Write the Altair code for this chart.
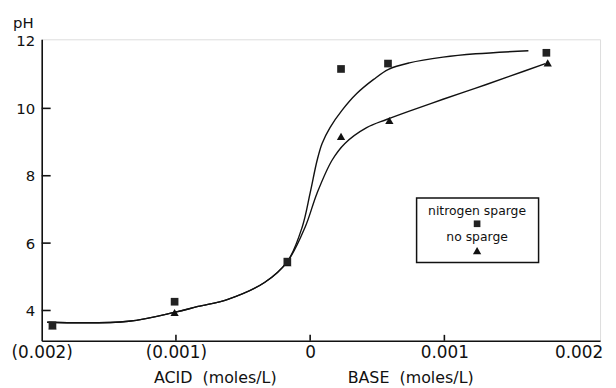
import altair as alt
import pandas as pd

# ---- data ----
# measured points
sq_x = [-0.00192, -0.00101, -0.00017, 0.00023, 0.00058, 0.00176]
sq_y = [3.56, 4.26, 5.45, 11.17, 11.33, 11.65]
tri_x = [-0.00192, -0.00101, -0.00017, 0.00023, 0.00059, 0.00177]
tri_y = [3.54, 3.94, 5.42, 9.17, 9.64, 11.35]

# fitted curves (traced)
n2_x = [-0.001959, -0.001353, -0.001005, -0.000835, -0.000613, -0.000340, -0.000170,
        -0.000059, 0.000000, 0.000052, 0.000089, 0.000148, 0.000237, 0.000347,
        0.000473, 0.000584, 0.000739, 0.000990, 0.001234, 0.001626]
n2_y = [3.65, 3.68, 3.95, 4.12, 4.33, 4.83, 5.45,
        6.48, 7.49, 8.46, 8.96, 9.43, 9.94, 10.44,
        10.86, 11.16, 11.35, 11.52, 11.62, 11.71]
ns_x = [-0.001959, -0.001353, -0.001005, -0.000835, -0.000613, -0.000340, -0.000170,
        -0.000037, 0.000052, 0.000163, 0.000259, 0.000421, 0.000569, 0.000739,
        0.000990, 0.001234, 0.001478, 0.001752]
ns_y = [3.65, 3.68, 3.95, 4.12, 4.33, 4.83, 5.45,
        6.48, 7.49, 8.46, 8.96, 9.43, 9.67, 9.92,
        10.27, 10.60, 10.94, 11.33]

x_tick_values = [-0.002, -0.001, 0, 0.001, 0.002]
y_tick_values = [4, 6, 8, 10, 12]
x_inner_ticks = [-0.001, 0, 0.001]
y_inner_ticks = [4, 6, 8, 10]

legend_labels = ["nitrogen sparge", "no sparge"]
axis_titles = ["ACID\u00a0\u00a0(moles/L)", "BASE\u00a0\u00a0(moles/L)"]

# ---- tables ----
curve_df = pd.DataFrame({
    "x": n2_x + ns_x,
    "y": n2_y + ns_y,
    "series": ["nitrogen sparge"] * len(n2_x) + ["no sparge"] * len(ns_x),
    "i": list(range(len(n2_x))) + list(range(len(ns_x))),
})
sq_df = pd.DataFrame({"x": sq_x, "y": sq_y})
tri_df = pd.DataFrame({"x": tri_x, "y": tri_y})

W, H = 563, 304
FONT = "DejaVu Sans"
INK = "#111111"

xscale = alt.Scale(domain=[-0.002, 0.00216], nice=False, zero=False)
yscale = alt.Scale(domain=[3.1, 12.05], nice=False, zero=False)

xaxis = alt.Axis(
    values=x_tick_values,
    labelExpr="datum.value < 0 ? '(' + format(-datum.value, '.3f') + ')' : (datum.value == 0 ? '0' : format(datum.value, '.3f'))",
    ticks=False, tickSize=0, grid=False, title=None,
    domainColor=INK, domainWidth=1.6,
    labelFont=FONT, labelFontSize=17, labelColor=INK, labelPadding=4,
    labelFlush=False, labelOverlap=False,
)
yaxis = alt.Axis(
    values=y_tick_values, format="d",
    ticks=False, tickSize=0, grid=False,
    domainColor=INK, domainWidth=1.6,
    labelFont=FONT, labelFontSize=15, labelColor=INK, labelPadding=7,
    title="pH", titleAngle=0, titleX=-19, titleY=-17, titleAlign="center",
    titleBaseline="middle", titleFont=FONT, titleFontSize=15,
    titleFontWeight="normal", titleColor=INK,
)

X = alt.X("x:Q", scale=xscale, axis=xaxis)
Y = alt.Y("y:Q", scale=yscale, axis=yaxis)

curves = alt.Chart(curve_df).mark_line(
    interpolate="catmull-rom", color=INK, strokeWidth=1.4
).encode(x=X, y=Y, detail="series:N", order="i:Q")

tris = alt.Chart(tri_df).mark_point(
    shape="triangle-up", filled=True, color=INK, size=70, opacity=1
).encode(x=X, y=Y)
sqs = alt.Chart(sq_df).mark_point(
    shape="square", filled=True, color="#222222", size=60, opacity=1
).encode(x=X, y=Y)

ytick = alt.Chart(pd.DataFrame({"y": y_inner_ticks})).mark_rule(
    color=INK, strokeWidth=1.6
).encode(y=Y, x=alt.value(0), x2=alt.value(9))
xtick = alt.Chart(pd.DataFrame({"x": x_inner_ticks})).mark_rule(
    color=INK, strokeWidth=1.6
).encode(x=X, y=alt.value(H), y2=alt.value(H - 6))

one = pd.DataFrame({"a": [0]})

acid_title = alt.Chart(pd.DataFrame({"t": [axis_titles[0]]})).mark_text(
    font=FONT, fontSize=16, color=INK, align="center", baseline="alphabetic"
).encode(text="t:N", x=alt.value(175), y=alt.value(H + 43))
base_title = alt.Chart(pd.DataFrame({"t": [axis_titles[1]]})).mark_text(
    font=FONT, fontSize=16, color=INK, align="center", baseline="alphabetic"
).encode(text="t:N", x=alt.value(372), y=alt.value(H + 43))

legend_box = alt.Chart(one).mark_rect(
    fill="white", stroke=INK, strokeWidth=1.5
).encode(x=alt.value(378), x2=alt.value(501), y=alt.value(160), y2=alt.value(225))

leg_t1 = alt.Chart(pd.DataFrame({"t": [legend_labels[0]]})).mark_text(
    font=FONT, fontSize=12.5, color=INK, align="center", baseline="middle"
).encode(text="t:N", x=alt.value(439), y=alt.value(173))
leg_t2 = alt.Chart(pd.DataFrame({"t": [legend_labels[1]]})).mark_text(
    font=FONT, fontSize=12.5, color=INK, align="center", baseline="middle"
).encode(text="t:N", x=alt.value(439), y=alt.value(199))
leg_sq = alt.Chart(one).mark_point(
    shape="square", filled=True, color="#222222", size=45, opacity=1
).encode(x=alt.value(439), y=alt.value(186))
leg_tri = alt.Chart(one).mark_point(
    shape="triangle-up", filled=True, color=INK, size=70, opacity=1
).encode(x=alt.value(439), y=alt.value(213))

chart = alt.layer(
    curves, tris, sqs, ytick, xtick, acid_title, base_title,
    legend_box, leg_t1, leg_t2, leg_sq, leg_tri,
).properties(
    width=W, height=H,
    autosize="none",
    padding={"left": 34, "top": 30, "right": 8, "bottom": 44},
).configure_view(strokeWidth=0).configure(background="white")

chart.save("out.html", embed_options={"renderer": "svg", "actions": False})
